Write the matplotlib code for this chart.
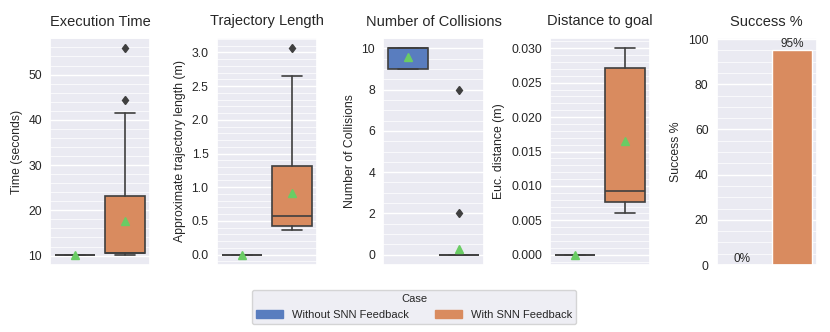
import numpy as np
import matplotlib
matplotlib.use("Agg")
import matplotlib.pyplot as plt
import seaborn as sns
from matplotlib.ticker import AutoMinorLocator
from matplotlib.patches import Patch

sns.set_theme(style="darkgrid", palette="muted")
plt.rcParams['font.family'] = ['Liberation Sans', 'DejaVu Sans']

cases = ["Without SNN Feedback", "With SNN Feedback"]

# box stats: [without, with]
# (whislo, q1, med, q3, whishi, mean, fliers)
exec_time = [(10.2, 10.2, 10.2, 10.2, 10.2, 10.2, []),
             (10.2, 10.5, 10.5, 23.2, 41.4, 17.6, [44.4, 55.8])]
traj_len = [(0.0, 0.0, 0.0, 0.0, 0.0, 0.0, []),
            (0.36, 0.42, 0.57, 1.32, 2.65, 0.91, [3.06])]
collisions = [(9, 9, 10, 10, 10, 9.57, []),
              (0, 0, 0, 0, 0, 0.28, [8, 2])]
dist_goal = [(0.0, 0.0, 0.0, 0.0, 0.0, 0.0, []),
             (0.006, 0.0077, 0.0092, 0.0272, 0.030, 0.0165, [])]
success = [0, 95]

titles = ["Execution Time", "Trajectory Length", "Number of Collisions",
          "Distance to goal", "Success %"]
ylabels = ["Time (seconds)", "Approximate trajectory length (m)",
           "Number of Collisions", "Euc. distance (m)", "Success %"]

pal = sns.color_palette("muted")
colors = [sns.desaturate(pal[0], 0.75), sns.desaturate(pal[1], 0.75)]
gray = "#3f3f3f"

fig, axes = plt.subplots(1, 5, figsize=(8.3, 3.32), dpi=100)
fig.subplots_adjust(left=50/830, right=817/830, bottom=67/332, top=294/332, wspace=0.66)


def draw_box(ax, data):
    stats = []
    for d in data:
        lo, q1, med, q3, hi, mean, fl = d
        stats.append(dict(whislo=lo, q1=q1, med=med, q3=q3, whishi=hi,
                          mean=mean, fliers=fl))
    bp = ax.bxp(stats, positions=[0, 1], widths=0.8, patch_artist=True,
                showmeans=True,
                boxprops=dict(edgecolor=gray, linewidth=1.2),
                medianprops=dict(color=gray, linewidth=1.2),
                whiskerprops=dict(color=gray, linewidth=1.2),
                capprops=dict(color=gray, linewidth=1.2),
                flierprops=dict(marker="d", markerfacecolor=gray,
                                markeredgecolor=gray, markersize=4.5),
                meanprops=dict(marker="^", markerfacecolor=pal[2],
                               markeredgecolor=pal[2], markersize=6))
    for patch, c in zip(bp["boxes"], colors):
        patch.set_facecolor(c)
    ax.set_xlim(-0.5, 1.5)


for ax, data in zip(axes[:4], [exec_time, traj_len, collisions, dist_goal]):
    draw_box(ax, data)

ax = axes[4]
bars = ax.bar([0, 1], success, width=0.8, color=colors)
for x, v in zip([0, 1], success):
    ax.text(x, v + 0.2, f"{v}%", ha="center", va="bottom", fontsize=8.5)
ax.set_xlim(-0.5, 1.5)
ax.set_ylim(0, 100.5)

for ax, t, yl in zip(axes, titles, ylabels):
    ax.set_title(t, fontsize=10.5, pad=9)
    ax.set_ylabel(yl, fontsize=8.8, labelpad=4)
    ax.set_xticks([])
    ax.tick_params(axis="y", labelsize=8.8, length=0, pad=5.8)
    ax.yaxis.set_minor_locator(AutoMinorLocator())
    ax.tick_params(axis="y", which="minor", length=0)
    ax.grid(which="minor", axis="y", color="white", linewidth=0.5)
    ax.grid(which="major", axis="y", color="white", linewidth=1.0)

handles = [Patch(facecolor=c, edgecolor=c) for c in colors]
fig.legend(handles, cases, title="Case", ncol=2, loc="center",
           bbox_to_anchor=(414/830, 1 - 307/332), fontsize=8,
           title_fontsize=8, columnspacing=2.4, handlelength=2.4,
           frameon=True)

fig.savefig("out.png", dpi=100)
